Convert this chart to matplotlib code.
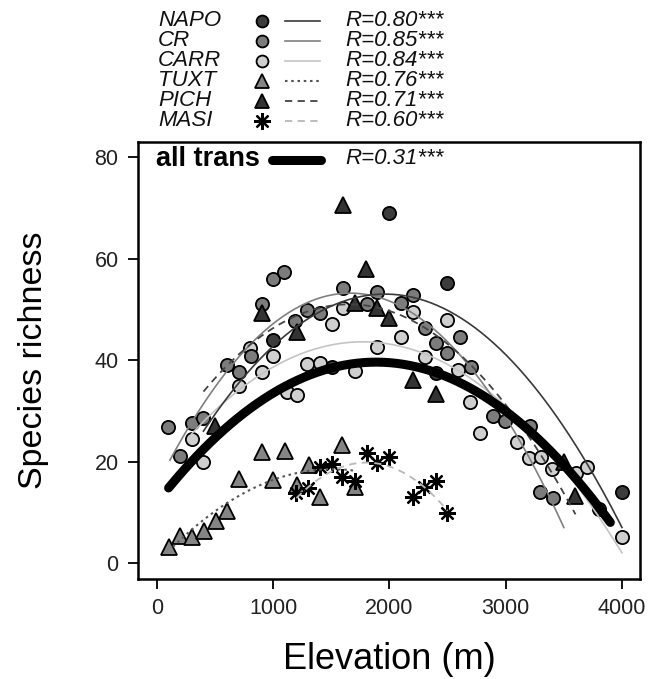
import numpy as np
import matplotlib
matplotlib.use("Agg")
import matplotlib.pyplot as plt
from matplotlib.lines import Line2D

plt.rcParams["font.family"] = ["Liberation Sans", "DejaVu Sans"]

# ---- observed species richness per transect (elevation in m) ----
napo_elev = [997, 1505, 2000, 2400, 2494, 3800, 4000]
napo_rich = [44.0, 38.6, 69.0, 37.5, 55.2, 10.6, 14.0]

cr_elev = [95, 198, 301, 396, 602, 705, 810, 903, 997, 1092, 1187, 1290, 1402,
           1599, 1806, 1892, 2098, 2201, 2304, 2399, 2494, 2605, 2700, 2889,
           2992, 3207, 3293, 3405]
cr_rich = [26.8, 21.1, 27.6, 28.6, 39.0, 37.6, 40.8, 51.0, 56.0, 57.3, 47.7,
           49.9, 49.2, 54.2, 51.0, 53.5, 51.2, 52.8, 46.3, 43.3, 41.4, 44.5,
           38.6, 29.0, 28.0, 27.0, 14.0, 12.8]

carr_elev = [301, 396, 705, 800, 903, 997, 1118, 1204, 1290, 1402, 1505, 1599,
             1703, 1892, 2098, 2201, 2304, 2494, 2588, 2691, 2780, 3095, 3199,
             3302, 3396, 3603, 3697, 3998]
carr_rich = [24.4, 20.0, 34.9, 42.4, 37.6, 40.8, 33.7, 33.1, 39.3, 39.4, 47.1,
             50.2, 37.8, 42.6, 44.5, 49.5, 40.6, 48.0, 38.0, 31.8, 25.6, 23.8,
             20.7, 20.9, 18.5, 17.7, 18.9, 5.1]

tuxt_elev = [100, 198, 301, 404, 507, 602, 705, 903, 997, 1100, 1204, 1307,
             1402, 1591, 1703]
tuxt_rich = [3.2, 5.3, 5.1, 6.3, 8.3, 10.2, 16.5, 21.9, 16.4, 22.1, 15.4, 19.3,
             13.0, 23.3, 15.0]

pich_elev = [500, 903, 1204, 1599, 1703, 1800, 1892, 1995, 2201, 2399, 3500, 3594]
pich_rich = [27.0, 49.3, 45.6, 70.5, 51.2, 58.0, 50.2, 48.3, 36.1, 33.3, 20.0, 13.2]

masi_elev = [1195, 1298, 1402, 1505, 1591, 1703, 1806, 1892, 1995, 2201, 2296,
             2399, 2494]
masi_rich = [13.8, 14.8, 19.0, 19.5, 16.9, 16.2, 21.6, 19.7, 20.9, 13.0, 15.0,
             16.2, 9.8]

# ---- quadratic regression curves: elevation range and fitted richness ----
napo_curve_elev = [400, 2000, 4000]
napo_curve_rich = [26.0, 53.0, 7.0]
cr_curve_elev = [112, 1663, 3500]
cr_curve_rich = [20.3, 53.2, 7.0]
carr_curve_elev = [300, 1800, 4000]
carr_curve_rich = [25.5, 43.6, 2.0]
tuxt_curve_elev = [138, 1500, 1700]
tuxt_curve_rich = [3.2, 18.5, 18.2]
pich_curve_elev = [400, 1650, 3600]
pich_curve_rich = [33.8, 51.0, 9.6]
masi_curve_elev = [1200, 1800, 2500]
masi_curve_rich = [12.8, 19.8, 10.3]
all_curve_elev = [100, 1900, 3900]
all_curve_rich = [14.8, 39.6, 8.0]

transects = ["NAPO", "CR", "CARR", "TUXT", "PICH", "MASI"]
r_labels = ["R=0.80***", "R=0.85***", "R=0.84***", "R=0.76***", "R=0.71***", "R=0.60***"]
all_label = "all trans"
all_r_label = "R=0.31***"

x_ticks = [0, 1000, 2000, 3000, 4000]
y_ticks = [0, 20, 40, 60, 80]

asterisk = (8, 2, 0)
styles = {
    "NAPO": dict(marker="o", face="#3c3c3c", ms=9.5, line="#3a3a3a", ls="-", lw=1.2),
    "CR":   dict(marker="o", face="#7c7c7c", ms=9.5, line="#808080", ls="-", lw=1.2),
    "CARR": dict(marker="o", face="#cfcfcf", ms=9.5, line="#c4c4c4", ls="-", lw=1.2),
    "TUXT": dict(marker="^", face="#858585", ms=11, line="#555555", ls=(0, (1.2, 1.8)), lw=1.5),
    "PICH": dict(marker="^", face="#333333", ms=11, line="#444444", ls=(0, (4, 3)), lw=1.3),
    "MASI": dict(marker=asterisk, face="black", ms=12, line="#b8b8b8", ls=(0, (4, 3)), lw=1.3),
}

data = {
    "NAPO": (napo_elev, napo_rich, napo_curve_elev, napo_curve_rich),
    "CR": (cr_elev, cr_rich, cr_curve_elev, cr_curve_rich),
    "CARR": (carr_elev, carr_rich, carr_curve_elev, carr_curve_rich),
    "TUXT": (tuxt_elev, tuxt_rich, tuxt_curve_elev, tuxt_curve_rich),
    "PICH": (pich_elev, pich_rich, pich_curve_elev, pich_curve_rich),
    "MASI": (masi_elev, masi_rich, masi_curve_elev, masi_curve_rich),
}

W, H = 648, 679
fig = plt.figure(figsize=(W / 100, H / 100), dpi=100)
ax = fig.add_axes([138 / W, 1 - 579 / H, (640 - 138) / W, (579 - 142) / H])


def quad_curve(xs, ys, n=200):
    coef = np.polyfit(xs, ys, 2)
    xx = np.linspace(min(xs), max(xs), n)
    return xx, np.polyval(coef, xx)


# points first, regression lines drawn over them
draw_order = ["CARR", "CR", "NAPO", "TUXT", "MASI", "PICH"]
for name in draw_order:
    st = styles[name]
    ex, ri, _, _ = data[name]
    if name == "MASI":
        ax.plot(ex, ri, linestyle="none", marker=st["marker"], ms=st["ms"],
                mec="black", mew=1.6, zorder=3)
    else:
        ax.plot(ex, ri, linestyle="none", marker=st["marker"], ms=st["ms"],
                mfc=st["face"], mec="black", mew=1.3, zorder=3)

for name in ["CARR", "CR", "NAPO", "TUXT", "MASI", "PICH"]:
    st = styles[name]
    _, _, cx, cy = data[name]
    xx, yy = quad_curve(cx, cy)
    ax.plot(xx, yy, color=st["line"], linestyle=st["ls"], lw=st["lw"], zorder=4)

xx, yy = quad_curve(all_curve_elev, all_curve_rich)
ax.plot(xx, yy, color="black", lw=6.5, solid_capstyle="round", zorder=5)

ax.set_xlim(-163, 4155)
ax.set_ylim(-3.15, 83.0)
ax.set_xticks(x_ticks)
ax.set_yticks(y_ticks)
ax.tick_params(axis="both", direction="out", length=7, width=1.3,
               labelsize=15.5, labelcolor="#222222", pad=7)
for sp in ax.spines.values():
    sp.set_linewidth(1.8)

ax.set_xlabel("Elevation (m)", fontsize=26, labelpad=16)
ax.set_ylabel("Species richness", fontsize=24.5, labelpad=33)

# ---- legend block above and inside the top of the panel ----
def fx(px):
    return px / W


def fy(py):
    return 1 - py / H


row_y = [21, 41, 61, 81, 101, 121]
for name, r, py in zip(transects, r_labels, row_y):
    st = styles[name]
    fig.text(fx(158), fy(py), name, fontsize=16, style="italic",
             va="center", ha="left", color="#111111")
    if name == "MASI":
        fig.add_artist(Line2D([fx(262)], [fy(py)], marker=st["marker"], ms=st["ms"],
                              mec="black", mew=1.6, linestyle="none",
                              transform=fig.transFigure))
    else:
        fig.add_artist(Line2D([fx(262)], [fy(py)], marker=st["marker"],
                              ms=st["ms"] * 0.9, mfc=st["face"], mec="black",
                              mew=1.3, linestyle="none", transform=fig.transFigure))
    fig.add_artist(Line2D([fx(285), fx(320)], [fy(py), fy(py)], color=st["line"],
                          linestyle=st["ls"], lw=st["lw"], transform=fig.transFigure))
    fig.text(fx(345), fy(py), r, fontsize=16, style="italic",
             va="center", ha="left", color="#111111")

fig.text(fx(156), fy(159), all_label, fontsize=19.5, fontweight="bold",
         va="center", ha="left", color="black")
fig.add_artist(Line2D([fx(272), fx(321)], [fy(160), fy(160)], color="black", lw=6.5,
                      solid_capstyle="round", transform=fig.transFigure))
fig.text(fx(345), fy(159), all_r_label, fontsize=16, style="italic",
         va="center", ha="left", color="#111111")

fig.savefig("out.png", dpi=100)
